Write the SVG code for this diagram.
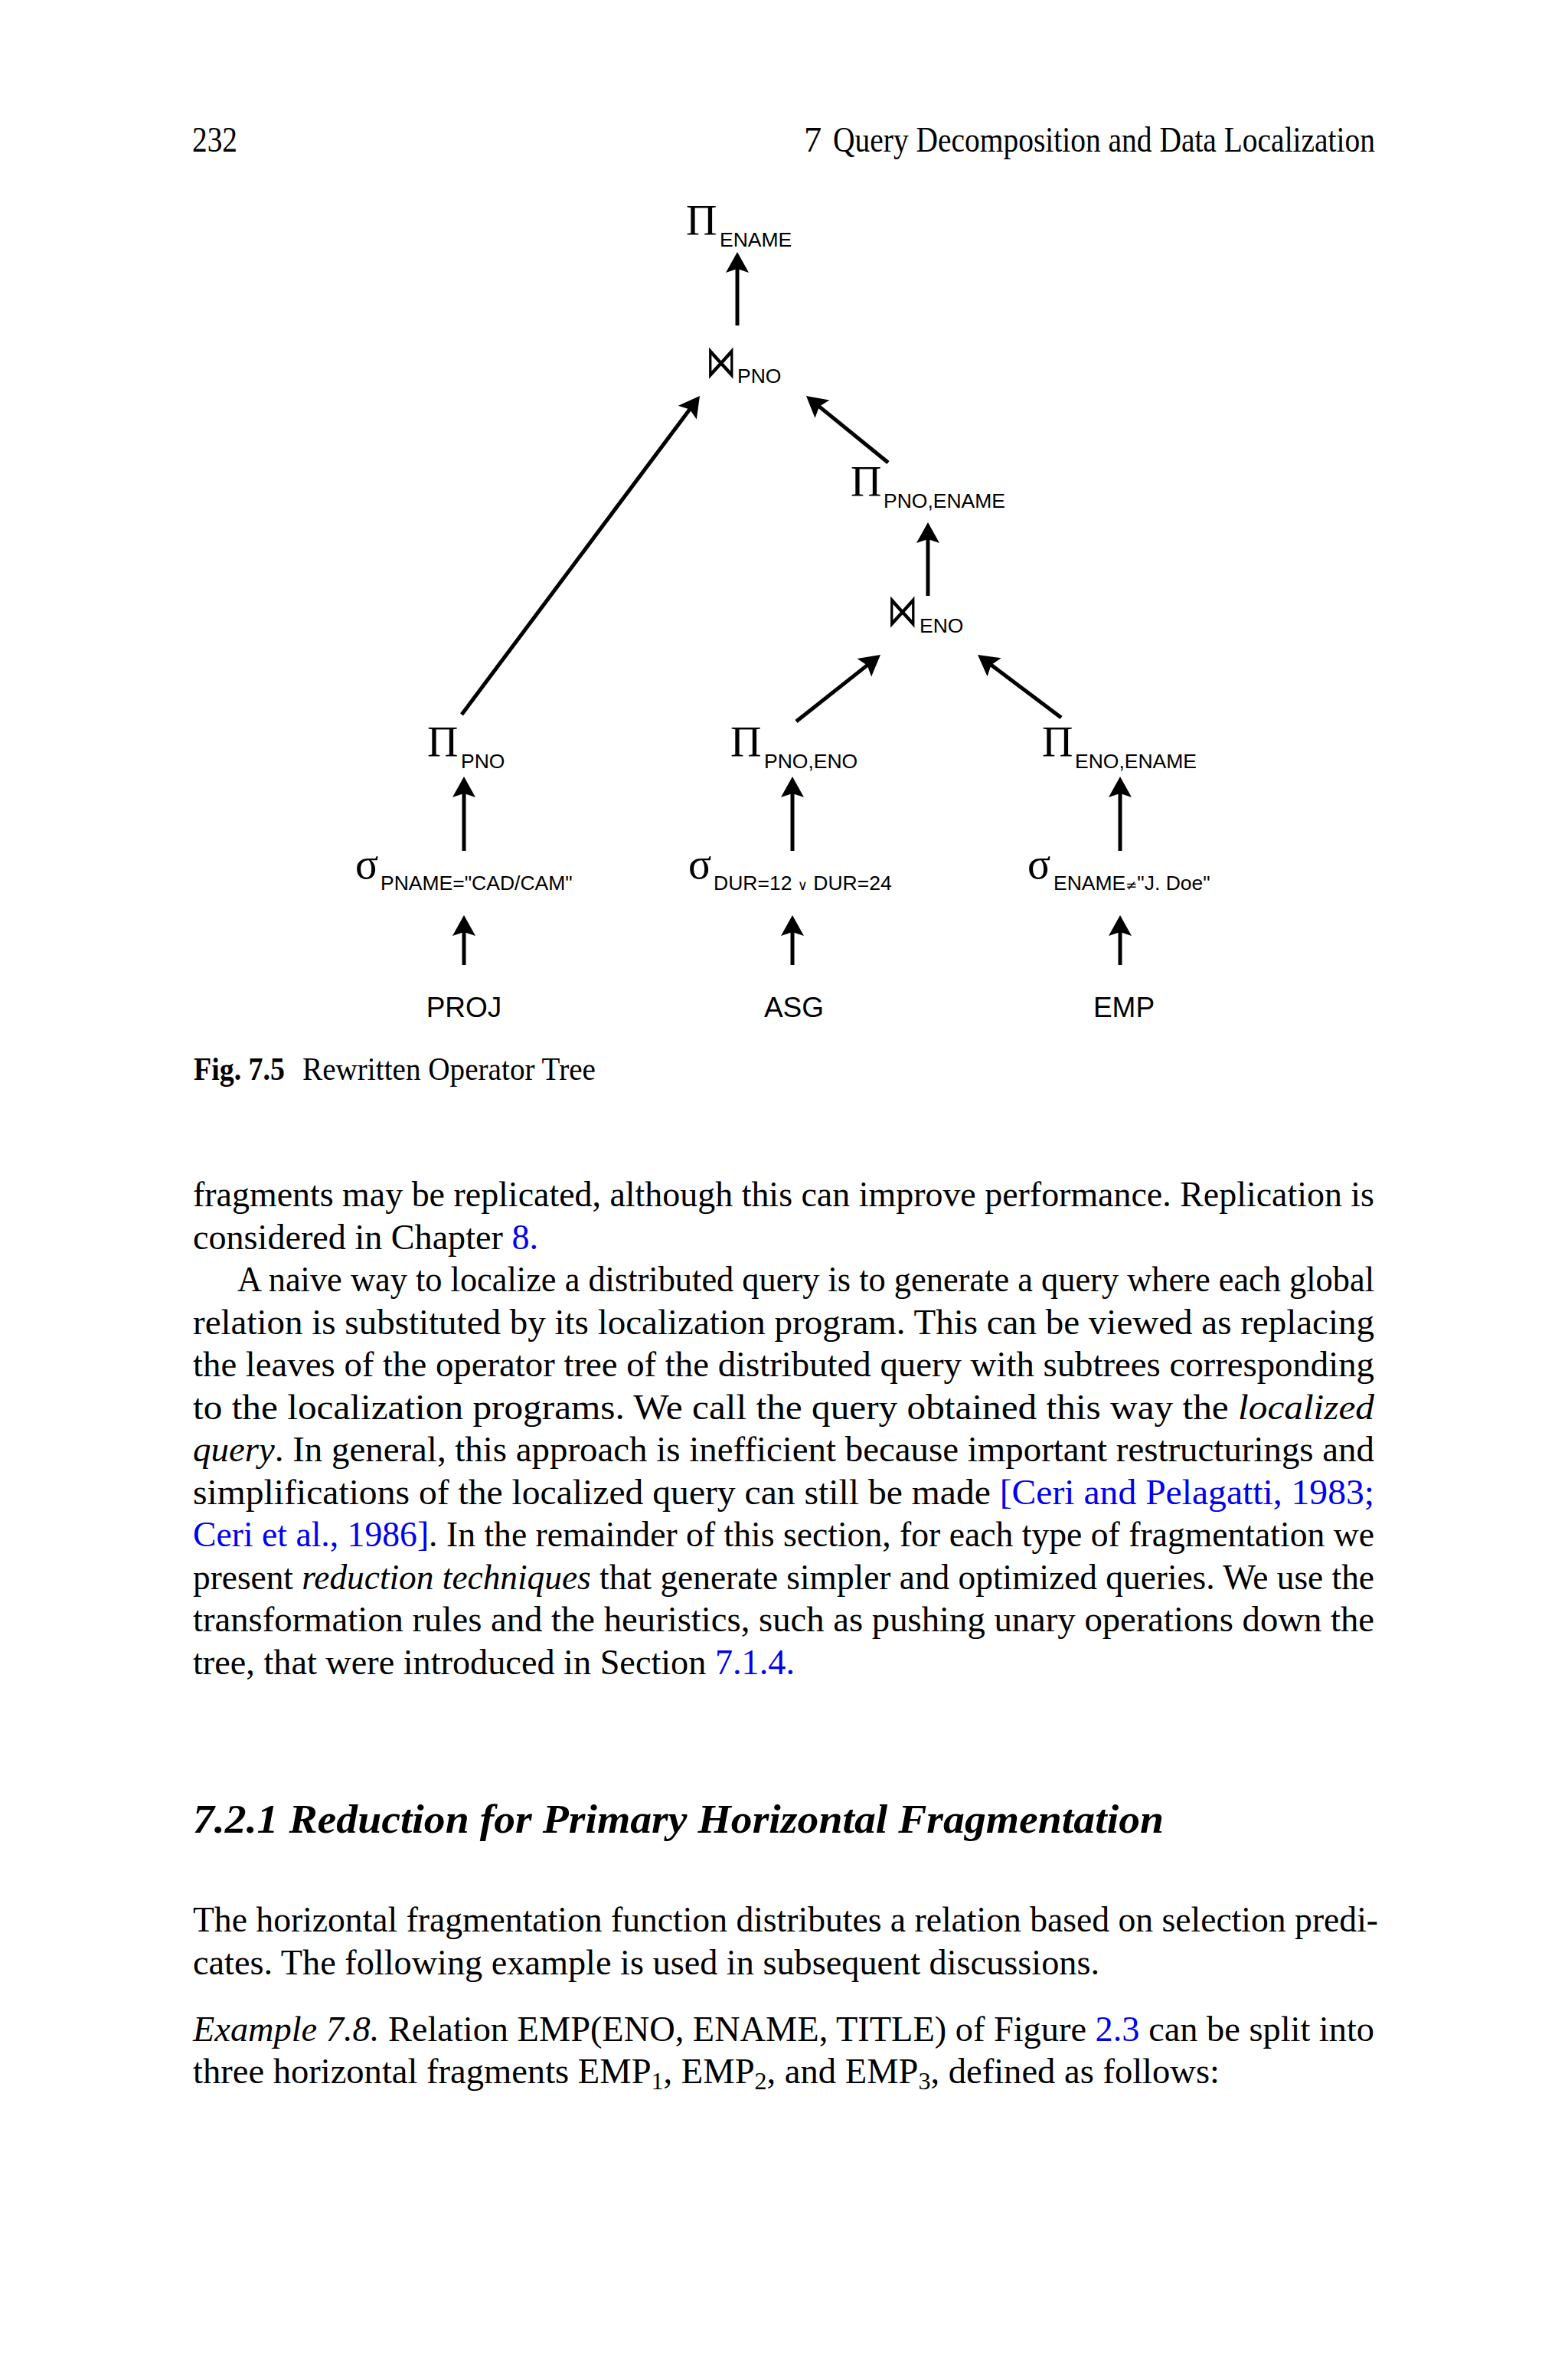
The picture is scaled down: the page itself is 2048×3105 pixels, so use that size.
<svg xmlns="http://www.w3.org/2000/svg" width="2048" height="3105" viewBox="0 0 2048 3105">
<style>
.body{font-family:"Liberation Serif","Times New Roman",serif;font-size:46.5px;fill:#000}
.it{font-style:italic}
.bd{font-weight:bold}
.link{fill:#0000ee}
.cap{font-family:"Liberation Serif","Times New Roman",serif;font-size:42px;fill:#000}
.head{font-family:"Liberation Serif","Times New Roman",serif;font-size:52px;font-weight:bold;font-style:italic;fill:#000}
.op{font-family:"Liberation Serif","Times New Roman",serif;font-size:56px;fill:#000}
.sub{font-family:"Liberation Sans",Arial,sans-serif;font-size:26.5px;fill:#000}
.sym{font-family:"DejaVu Sans",sans-serif;font-size:18px}
.join{font-family:"DejaVu Sans",sans-serif;font-size:40px;fill:#000}
.rel{font-family:"Liberation Sans",Arial,sans-serif;font-size:37px;fill:#000;text-anchor:middle}
.edge{stroke:#000;stroke-width:5;fill:none;marker-end:url(#ah)}
</style>
<defs>
<marker id="ah" markerUnits="userSpaceOnUse" markerWidth="60" markerHeight="60" refX="0" refY="0" orient="auto" overflow="visible">
<path d="M20,0 L-7,-15 L-2,0 L-7,15 Z" fill="#000"/>
</marker>
</defs>
<rect width="2048" height="3105" fill="#fff"/>

<g id="header">
<text class="body" x="251" y="198" textLength="59" lengthAdjust="spacingAndGlyphs">232</text>
<text class="body" x="1050" y="198">7</text>
<text class="body" x="1088" y="198" textLength="708" lengthAdjust="spacingAndGlyphs">Query Decomposition and Data Localization</text>
</g>

<g id="connectors">
<line class="edge" x1="963" y1="425" x2="963" y2="349"/>
<line class="edge" x1="603" y1="933" x2="902" y2="533"/>
<line class="edge" x1="1160" y1="604" x2="1068.5" y2="529.6"/>
<line class="edge" x1="1212" y1="778" x2="1212" y2="702"/>
<line class="edge" x1="1040" y1="942" x2="1134.3" y2="867.4"/>
<line class="edge" x1="1386" y1="937" x2="1293" y2="867"/>
<line class="edge" x1="606" y1="1111" x2="606" y2="1034"/>
<line class="edge" x1="1035" y1="1111" x2="1035" y2="1034"/>
<line class="edge" x1="1463" y1="1111" x2="1463" y2="1034"/>
<line class="edge" x1="606" y1="1260" x2="606" y2="1215"/>
<line class="edge" x1="1035" y1="1260" x2="1035" y2="1215"/>
<line class="edge" x1="1463" y1="1260" x2="1463" y2="1215"/>
</g>

<g id="proj-ename">
<text class="op" x="896" y="307">Π</text>
<text class="sub" x="940" y="322">ENAME</text>
</g>
<g id="join-pno">
<text class="join" transform="translate(926,493) scale(1,1.5)" x="-4" y="0">⋈</text>
<text class="sub" x="963" y="500">PNO</text>
</g>
<g id="proj-pno-ename">
<text class="op" x="1111" y="648">Π</text>
<text class="sub" x="1154" y="663">PNO,ENAME</text>
</g>
<g id="join-eno">
<text class="join" transform="translate(1163,818) scale(1,1.5)" x="-4" y="0">⋈</text>
<text class="sub" x="1201" y="826">ENO</text>
</g>
<g id="proj-pno">
<text class="op" x="558" y="988">Π</text>
<text class="sub" x="602" y="1003">PNO</text>
</g>
<g id="proj-pno-eno">
<text class="op" x="954" y="988">Π</text>
<text class="sub" x="998" y="1003">PNO,ENO</text>
</g>
<g id="proj-eno-ename">
<text class="op" x="1361" y="988">Π</text>
<text class="sub" x="1404" y="1003">ENO,ENAME</text>
</g>
<g id="sel-pname">
<text class="op" x="464" y="1147">σ</text>
<text class="sub" x="497" y="1162">PNAME="CAD/CAM"</text>
</g>
<g id="sel-dur">
<text class="op" x="899" y="1147">σ</text>
<text class="sub" x="932" y="1162">DUR=12 <tspan class="sym">∨</tspan> DUR=24</text>
</g>
<g id="sel-ename">
<text class="op" x="1342" y="1147">σ</text>
<text class="sub" x="1376" y="1162">ENAME<tspan class="sym">≠</tspan>"J. Doe"</text>
</g>
<g id="rel-proj"><text class="rel" x="606" y="1328">PROJ</text></g>
<g id="rel-asg"><text class="rel" x="1037" y="1328">ASG</text></g>
<g id="rel-emp"><text class="rel" x="1468" y="1328">EMP</text></g>

<g id="caption">
<text class="cap bd" x="253" y="1410" textLength="119" lengthAdjust="spacingAndGlyphs">Fig. 7.5</text>
<text class="cap" x="395" y="1410" textLength="383" lengthAdjust="spacingAndGlyphs">Rewritten Operator Tree</text>
</g>

<g id="text">
<text class="body" x="252" y="1575" textLength="1543" lengthAdjust="spacingAndGlyphs">fragments may be replicated, although this can improve performance. Replication is</text>
<text class="body" x="252" y="1631" textLength="451" lengthAdjust="spacingAndGlyphs">considered in Chapter <tspan class="link">8.</tspan></text>
<text class="body" x="310" y="1686" textLength="1485" lengthAdjust="spacingAndGlyphs">A naive way to localize a distributed query is to generate a query where each global</text>
<text class="body" x="252" y="1742" textLength="1543" lengthAdjust="spacingAndGlyphs">relation is substituted by its localization program. This can be viewed as replacing</text>
<text class="body" x="252" y="1797" textLength="1543" lengthAdjust="spacingAndGlyphs">the leaves of the operator tree of the distributed query with subtrees corresponding</text>
<text class="body" x="252" y="1853" textLength="1543" lengthAdjust="spacingAndGlyphs">to the localization programs. We call the query obtained this way the <tspan class="it">localized</tspan></text>
<text class="body" x="252" y="1908" textLength="1543" lengthAdjust="spacingAndGlyphs"><tspan class="it">query</tspan>. In general, this approach is inefficient because important restructurings and</text>
<text class="body" x="252" y="1964" textLength="1543" lengthAdjust="spacingAndGlyphs">simplifications of the localized query can still be made <tspan class="link">[Ceri and Pelagatti, 1983;</tspan></text>
<text class="body" x="252" y="2019" textLength="1543" lengthAdjust="spacingAndGlyphs"><tspan class="link">Ceri et al., 1986]</tspan>. In the remainder of this section, for each type of fragmentation we</text>
<text class="body" x="252" y="2075" textLength="1543" lengthAdjust="spacingAndGlyphs">present <tspan class="it">reduction techniques</tspan> that generate simpler and optimized queries. We use the</text>
<text class="body" x="252" y="2130" textLength="1543" lengthAdjust="spacingAndGlyphs">transformation rules and the heuristics, such as pushing unary operations down the</text>
<text class="body" x="252" y="2186" textLength="786" lengthAdjust="spacingAndGlyphs">tree, that were introduced in Section <tspan class="link">7.1.4.</tspan></text>

<text class="head" x="252" y="2393" textLength="1268" lengthAdjust="spacingAndGlyphs">7.2.1  Reduction for Primary Horizontal Fragmentation</text>

<text class="body" x="252" y="2522" textLength="1548" lengthAdjust="spacingAndGlyphs">The horizontal fragmentation function distributes a relation based on selection predi-</text>
<text class="body" x="252" y="2578" textLength="1184" lengthAdjust="spacingAndGlyphs">cates. The following example is used in subsequent discussions.</text>
<text class="body" x="252" y="2665" textLength="1543" lengthAdjust="spacingAndGlyphs"><tspan class="it">Example 7.8.</tspan> Relation EMP(ENO, ENAME, TITLE) of Figure <tspan class="link">2.3</tspan> can be split into</text>
<text class="body" x="252" y="2720" textLength="1341" lengthAdjust="spacingAndGlyphs">three horizontal fragments EMP<tspan font-size="32" dy="8">1</tspan><tspan dy="-8">, EMP</tspan><tspan font-size="32" dy="8">2</tspan><tspan dy="-8">, and EMP</tspan><tspan font-size="32" dy="8">3</tspan><tspan dy="-8">, defined as follows:</tspan></text>
</g>
</svg>
